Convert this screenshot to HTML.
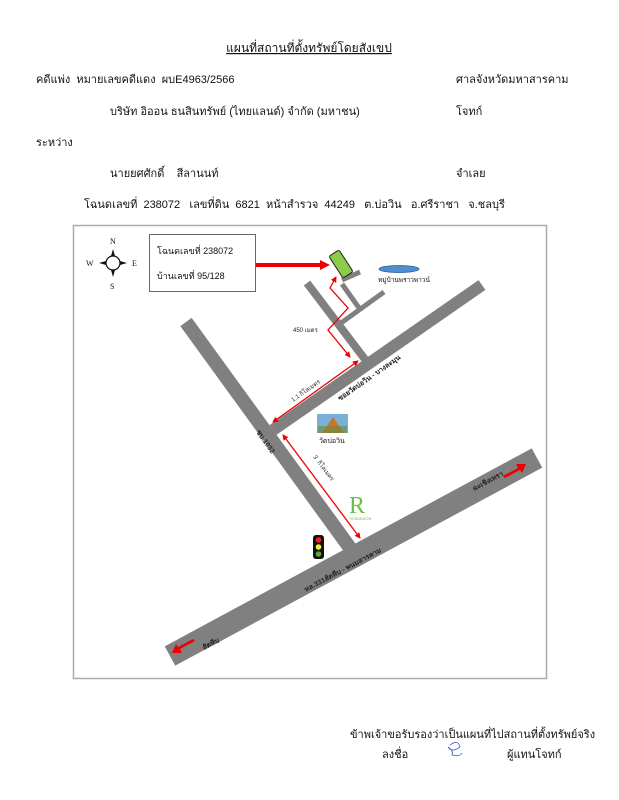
<!DOCTYPE html>
<html><head><meta charset="utf-8"><style>
body{margin:0;background:#fff;}
svg{display:block;font-family:"Liberation Sans","DejaVu Sans",sans-serif;}
text{white-space:pre;}
</style></head><body>
<svg width="619" height="800" viewBox="0 0 619 800" xmlns="http://www.w3.org/2000/svg" xml:space="preserve">
<defs>
<marker id="ah" markerWidth="6" markerHeight="6" refX="5" refY="3" orient="auto" markerUnits="userSpaceOnUse"><path d="M0,0 L6,3 L0,6 z" fill="#e00"/></marker>
<marker id="as" markerWidth="6" markerHeight="6" refX="1" refY="3" orient="auto" markerUnits="userSpaceOnUse"><path d="M6,0 L0,3 L6,6 z" fill="#e00"/></marker>
</defs>
<g font-size="11" fill="#111">
<text x="309" y="52" text-anchor="middle" font-size="12" text-decoration="underline">แผนที่สถานที่ตั้งทรัพย์โดยสังเขป</text>
<text x="36" y="83">คดีแพ่ง  หมายเลขคดีแดง  ผบE4963/2566</text>
<text x="456" y="83">ศาลจังหวัดมหาสารคาม</text>
<text x="110" y="115">บริษัท อิออน ธนสินทรัพย์ (ไทยแลนด์) จำกัด (มหาชน)</text>
<text x="456" y="115">โจทก์</text>
<text x="36" y="146">ระหว่าง</text>
<text x="110" y="177">นายยศศักดิ์    สีลานนท์</text>
<text x="456" y="177">จำเลย</text>
<text x="84" y="208">โฉนดเลขที่  238072   เลขที่ดิน  6821  หน้าสำรวจ  44249   ต.บ่อวิน   อ.ศรีราชา   จ.ชลบุรี</text>
</g>
<rect x="73.5" y="225.5" width="473" height="453" fill="#fff" stroke="#aaa" stroke-width="1.5"/>
<g stroke="#808080" fill="none">
<line x1="170" y1="656" x2="537" y2="458" stroke-width="22"/>
<line x1="186" y1="322" x2="350" y2="548" stroke-width="14"/>
<line x1="273" y1="430" x2="482" y2="285" stroke-width="12"/>
<line x1="307" y1="283" x2="367" y2="362" stroke-width="8"/>
<line x1="342" y1="280" x2="360" y2="272" stroke-width="5"/>
<line x1="342" y1="284" x2="359" y2="308" stroke-width="5"/>
<line x1="341" y1="323" x2="384" y2="292" stroke-width="5"/>
</g>
<g fill="#111" stroke="#111">
<circle cx="113" cy="263" r="7" fill="#fff" stroke-width="1.2"/>
<path d="M113,249 l-2,7 h4z M113,277 l-2,-7 h4z M99,263 l7,-2 v4z M127,263 l-7,-2 v4z" stroke="none"/>
</g>
<g font-family="Liberation Serif,serif" font-size="8" fill="#111">
<text x="110" y="244">N</text><text x="110" y="289">S</text><text x="86" y="266">W</text><text x="132" y="266">E</text>
</g>
<rect x="149.5" y="234.5" width="106" height="57" fill="#fff" stroke="#666"/>
<text x="157" y="254" font-size="9" fill="#111">โฉนดเลขที่ 238072</text>
<text x="157" y="279" font-size="9" fill="#111">บ้านเลขที่ 95/128</text>
<line x1="256" y1="265" x2="322" y2="265" stroke="#e00" stroke-width="4"/>
<path d="M320,260 L330,265 L320,270z" fill="#e00"/>
<rect x="335" y="251" width="12" height="26" rx="2" fill="#8dcb4b" stroke="#222" transform="rotate(-33 341 264)"/>
<ellipse cx="399" cy="269" rx="20" ry="3.5" fill="#4f8fd0" stroke="#2a5c90" stroke-width="0.8"/>
<text x="378" y="282" font-size="6.5" fill="#111">หมู่บ้านพราวพาวน์</text>
<g stroke="#e00" stroke-width="1.3" fill="none">
<polyline points="350,357 328,330 348,308 330,288 336,277" marker-end="url(#ah)" marker-start="url(#as)"/>
<line x1="273" y1="422" x2="358" y2="361" marker-end="url(#ah)" marker-start="url(#as)"/>
<line x1="283" y1="435" x2="360" y2="538" marker-end="url(#ah)" marker-start="url(#as)"/>
</g>
<text x="293" y="332" font-size="6" fill="#222">450 เมตร</text>
<text font-size="6" fill="#222" transform="translate(293,402) rotate(-35)">1.1 กิโลเมตร</text>
<text font-size="6" fill="#222" transform="translate(313,457) rotate(53)">3  กิโลเมตร</text>
<text font-size="7" font-weight="bold" fill="#222" transform="translate(340,401) rotate(-35)">ซอยวัดบ่อวิน - บางละมุน</text>
<text font-size="7" font-weight="bold" fill="#222" transform="translate(256,432) rotate(55)">ชบ.1032</text>
<text font-size="7" font-weight="bold" fill="#222" transform="translate(306,592) rotate(-28)">ทล.331สัตหีบ - พนมสารคาม</text>
<text font-size="7" font-weight="bold" fill="#222" transform="translate(474,491) rotate(-28)">ฉะเชิงเทรา</text>
<text font-size="7" font-weight="bold" fill="#222" transform="translate(204,650) rotate(-28)">สัตหีบ</text>
<g fill="#e00">
<path d="M503,476 l15,-8 l-2,-4 l10,0 l-4,9 l-2,-3 l-15,8z"/>
<path d="M195,641 l-15,8 l2,4 l-10,0 l4,-9 l2,3 l15,-8z"/>
</g>
<rect x="317" y="414" width="31" height="19" fill="#7ab0d8"/>
<path d="M322,433 L333,417 L344,433z" fill="#c7762c"/>
<rect x="318" y="426" width="29" height="7" fill="#6a8a3a" opacity="0.6"/>
<text x="319" y="443" font-size="7" fill="#111">วัดบ่อวิน</text>
<text x="349" y="513" font-size="24" fill="#6abf45" font-family="Liberation Serif,serif">R</text>
<text x="350" y="520" font-size="4" fill="#6abf45">ROBINSON</text>
<rect x="313" y="535" width="11" height="24" rx="3" fill="#111"/>
<circle cx="318.5" cy="540" r="2.8" fill="#e22"/>
<circle cx="318.5" cy="547" r="2.8" fill="#ee3"/>
<circle cx="318.5" cy="554" r="2.8" fill="#5a3"/>
<g font-size="11" fill="#111">
<text x="350" y="738">ข้าพเจ้าขอรับรองว่าเป็นแผนที่ไปสถานที่ตั้งทรัพย์จริง</text>
<text x="382" y="758">ลงชื่อ</text>
<text x="507" y="758">ผู้แทนโจทก์</text>
</g>
<path d="M450,745 q8,-6 10,2 q-8,6 -12,0 q6,4 4,8 q8,2 10,-2" stroke="#3a5fc8" stroke-width="0.8" fill="none"/>
</svg>
</body></html>
